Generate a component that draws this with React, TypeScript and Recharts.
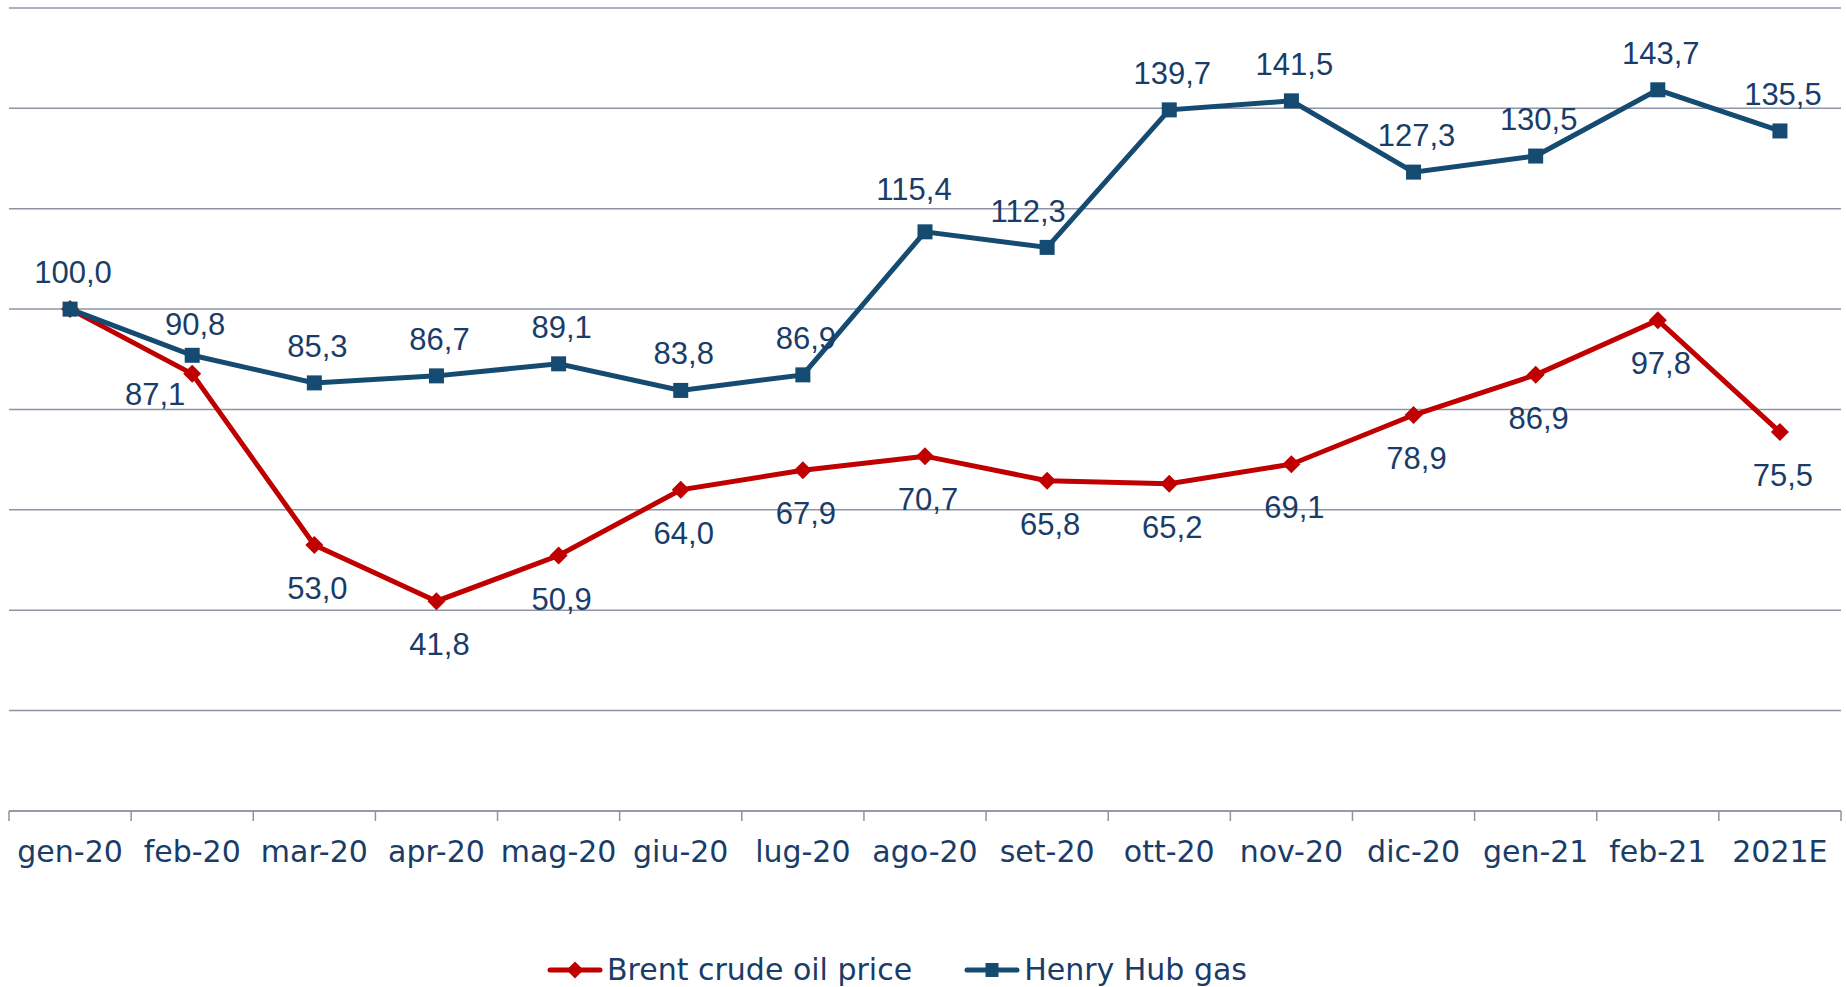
import { LineChart, Line, XAxis, YAxis, CartesianGrid, Legend, LabelList } from 'recharts';

const months = ['gen-20', 'feb-20', 'mar-20', 'apr-20', 'mag-20', 'giu-20', 'lug-20', 'ago-20', 'set-20', 'ott-20', 'nov-20', 'dic-20', 'gen-21', 'feb-21', '2021E'];
const brent = [100.0, 87.1, 53.0, 41.8, 50.9, 64.0, 67.9, 70.7, 65.8, 65.2, 69.1, 78.9, 86.9, 97.8, 75.5];
const henryHub = [100.0, 90.8, 85.3, 86.7, 89.1, 83.8, 86.9, 115.4, 112.3, 139.7, 141.5, 127.3, 130.5, 143.7, 135.5];
const yTicks = [0, 20, 40, 60, 80, 100, 120, 140, 160];

const RED = '#c00000';
const BLUE = '#154b71';
const TEXT = '#1a3c68';
const GRID = '#8e94a6';
const LABEL_FONT = '"Liberation Sans", Arial, sans-serif';
const AXIS_FONT = '"DejaVu Sans", sans-serif';

const W = 1846;
const H = 987;
const MARGIN = { top: 8, right: 5, left: 9, bottom: 176 };
const TICK_GAP = 30;
const BAND = (W - MARGIN.left - MARGIN.right) / months.length;

const data = months.map((month, i) => ({ month, brent: brent[i], gas: henryHub[i] }));

const fmt = (v: number) => v.toFixed(1).replace('.', ',');

// hand-placed labels in the original, nudged a bit to avoid overlaps
const gasShift: Record<number, [number, number]> = { 1: [0, 6], 7: [-14, -6], 8: [-22, 1] };
const brentShift: Record<number, [number, number]> = { 1: [-40, -23] };

const GasDot = (p: any) =>
  p.cx == null ? null : (
    <rect key={`g-${p.index}`} x={p.cx - 7.5} y={p.cy - 7.5} width={15} height={15} fill={BLUE} />
  );

const BrentDot = (p: any) =>
  p.cx == null ? null : (
    <polygon
      key={`b-${p.index}`}
      points={`${p.cx},${p.cy - 9} ${p.cx + 9},${p.cy} ${p.cx},${p.cy + 9} ${p.cx - 9},${p.cy}`}
      fill={RED}
    />
  );

const GasLabel = (p: any) => {
  const [dx, dy] = gasShift[p.index] ?? [0, 0];
  return (
    <text x={p.x + 3 + dx} y={p.y - 26 + dy} textAnchor="middle" fill={TEXT} fontSize={31} fontFamily={LABEL_FONT}>
      {fmt(p.value)}
    </text>
  );
};

const BrentLabel = (p: any) => {
  if (p.index === 0) return null;
  const [dx, dy] = brentShift[p.index] ?? [0, 0];
  return (
    <text x={p.x + 3 + dx} y={p.y + 54 + dy} textAnchor="middle" fill={TEXT} fontSize={31} fontFamily={LABEL_FONT}>
      {fmt(p.value)}
    </text>
  );
};

// category label plus Excel-style tick marks on the band edges
const MonthTick = (p: any) => {
  const axisY = p.y - TICK_GAP;
  const left = p.x - BAND / 2;
  const isLast = p.index === months.length - 1;
  return (
    <g>
      <line x1={left} y1={axisY} x2={left} y2={axisY + 10} stroke={GRID} strokeWidth={1.5} />
      {isLast && <line x1={left + BAND} y1={axisY} x2={left + BAND} y2={axisY + 10} stroke={GRID} strokeWidth={1.5} />}
      <text x={p.x} y={p.y} dy="0.71em" textAnchor="middle" fill={TEXT} fontSize={30} fontFamily={AXIS_FONT}>
        {p.payload.value}
      </text>
    </g>
  );
};

const LegendIcon = ({ color, square }: { color: string; square: boolean }) => (
  <svg width={56} height={20} style={{ marginRight: 4 }}>
    <line x1={3} y1={10} x2={53} y2={10} stroke={color} strokeWidth={5} strokeLinecap="round" />
    {square ? (
      <rect x={21.5} y={3} width={13} height={14} fill={color} />
    ) : (
      <polygon points="28,1.5 36.5,10 28,18.5 19.5,10" fill={color} />
    )}
  </svg>
);

const renderLegend = () => (
  <div
    style={{
      display: 'flex',
      alignItems: 'center',
      fontFamily: AXIS_FONT,
      fontSize: 30,
      lineHeight: '34px',
      color: TEXT,
      whiteSpace: 'nowrap',
    }}
  >
    <LegendIcon color={RED} square={false} />
    <span style={{ marginRight: 52 }}>Brent crude oil price</span>
    <LegendIcon color={BLUE} square />
    <span>Henry Hub gas</span>
  </div>
);

export default function App() {
  return (
    <div style={{ position: 'absolute', top: 0, left: 0, width: W, height: H, background: '#fff' }}>
      <LineChart width={W} height={H} data={data} margin={MARGIN}>
        <CartesianGrid vertical={false} stroke={GRID} strokeWidth={1.5} />
        <YAxis hide domain={[0, 160]} ticks={yTicks} />
        <XAxis
          dataKey="month"
          scale="band"
          interval={0}
          height={0.01}
          stroke={GRID}
          strokeWidth={1.5}
          tickLine={false}
          tickSize={0}
          tickMargin={TICK_GAP}
          tick={MonthTick}
        />
        <Legend
          verticalAlign="middle"
          layout="horizontal"
          content={renderLegend}
          wrapperStyle={{ top: 953, left: 547, width: 'auto' }}
        />
        <Line
          dataKey="brent"
          stroke={RED}
          strokeWidth={5}
          dot={BrentDot}
          activeDot={false}
          isAnimationActive={false}
        >
          <LabelList dataKey="brent" content={BrentLabel} />
        </Line>
        <Line
          dataKey="gas"
          stroke={BLUE}
          strokeWidth={5}
          dot={GasDot}
          activeDot={false}
          isAnimationActive={false}
        >
          <LabelList dataKey="gas" content={GasLabel} />
        </Line>
      </LineChart>
    </div>
  );
}
